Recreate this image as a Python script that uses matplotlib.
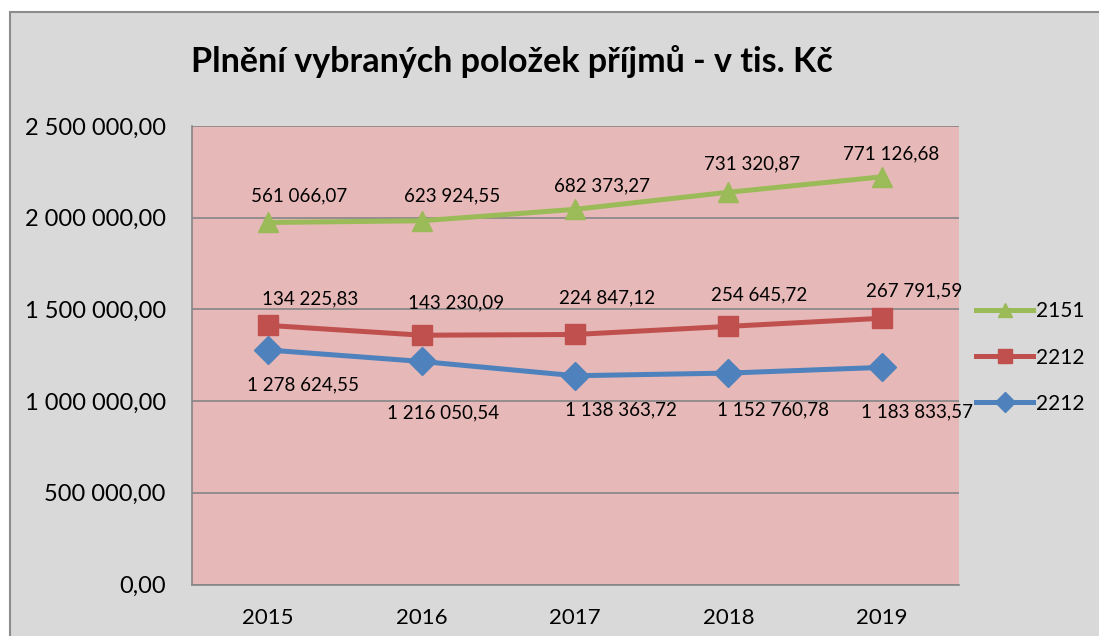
import numpy as np
import matplotlib.pyplot as plt
from matplotlib.patches import Rectangle

years = ['2015', '2016', '2017', '2018', '2019']
# stacked line chart: blue at the bottom, red on top of it, green on top
blue_2212 = [1278624.55, 1216050.54, 1138363.72, 1152760.78, 1183833.57]
red_2212 = [134225.83, 143230.09, 224847.12, 254645.72, 267791.59]
green_2151 = [561066.07, 623924.55, 682373.27, 731320.87, 771126.68]
y_ticks = [0, 500000, 1000000, 1500000, 2000000, 2500000]

C_GREEN = '#9BBB59'
C_RED = '#C0504D'
C_BLUE = '#4F81BD'

# label offsets in pixels (labels were placed by hand in the original)
off_green = [(31, 27), (31, 25), (27, 23), (24, 28), (9, 23)]
off_red = [(42, 27), (34, 32), (32, 37), (31, 32), (32, 27)]
off_blue = [(35, -35), (21, -51), (46, -34), (45, -37), (35, -44)]


def fmt(v):
    return f"{v:,.2f}".replace(",", " ").replace(".", ",")


plt.rcParams['font.family'] = ['Lato', 'DejaVu Sans']

fig = plt.figure(figsize=(10.99, 6.36), dpi=100)
fig.patch.set_facecolor('white')
fig.patches.append(Rectangle((10 / 1099, -0.1), 1.2, 1 - 12 / 636 + 0.1,
                             transform=fig.transFigure, facecolor='#D9D9D9',
                             edgecolor='#8C8C8C', linewidth=1.5, zorder=-10))

ax = fig.add_axes([191.5 / 1099, 1 - 584.5 / 636, 767 / 1099, 458.5 / 636])
ax.set_facecolor('#E6B8B7')

x = np.arange(len(years))
b = np.array(blue_2212)
r = b + np.array(red_2212)
g = r + np.array(green_2151)

lb, = ax.plot(x, b, color=C_BLUE, lw=3.6, marker='D', ms=14, zorder=3)
lr, = ax.plot(x, r, color=C_RED, lw=3.6, marker='s', ms=14, zorder=3)
lg, = ax.plot(x, g, color=C_GREEN, lw=3.6, marker='^', ms=14, zorder=3)

for vals, tops, offs in [(blue_2212, b, off_blue), (red_2212, r, off_red),
                         (green_2151, g, off_green)]:
    for i, (v, t) in enumerate(zip(vals, tops)):
        ax.annotate(fmt(v), (x[i], t), xytext=offs[i], textcoords='offset pixels',
                    ha='center', va='center', fontsize=13.5, color='black')

ax.set_xlim(-0.5, len(years) - 0.5)
ax.set_ylim(0, 2500000)
ax.set_xticks(x)
ax.set_xticklabels(years, fontsize=16)
ax.set_yticks(y_ticks)
ax.set_yticklabels([fmt(v) for v in y_ticks], fontsize=17)
ax.tick_params(length=0, pad=18.5)
ax.tick_params(axis='x', pad=17)
ax.grid(axis='y', color='#868686', lw=1.2)
ax.set_axisbelow(True)
for s in ['top', 'right']:
    ax.spines[s].set_visible(False)
for s in ['left', 'bottom']:
    ax.spines[s].set_color('#868686')
    ax.spines[s].set_linewidth(1.2)

fig.text(512 / 1099, 1 - 62 / 636, 'Plnění vybraných položek příjmů - v tis. Kč',
         ha='center', va='center', fontsize=24.5, fontweight='bold')

ax.legend([lg, lr, lb], ['2151', '2212', '2212'], loc='center left',
          bbox_to_anchor=(1 + 18 / 767, (584.5 - 357.5) / 458.5), frameon=False,
          fontsize=15, handlelength=2.7, labelspacing=1.25, handletextpad=0.15,
          borderaxespad=0, borderpad=0, markerscale=0.75)

fig.savefig('out.png', dpi=100)
